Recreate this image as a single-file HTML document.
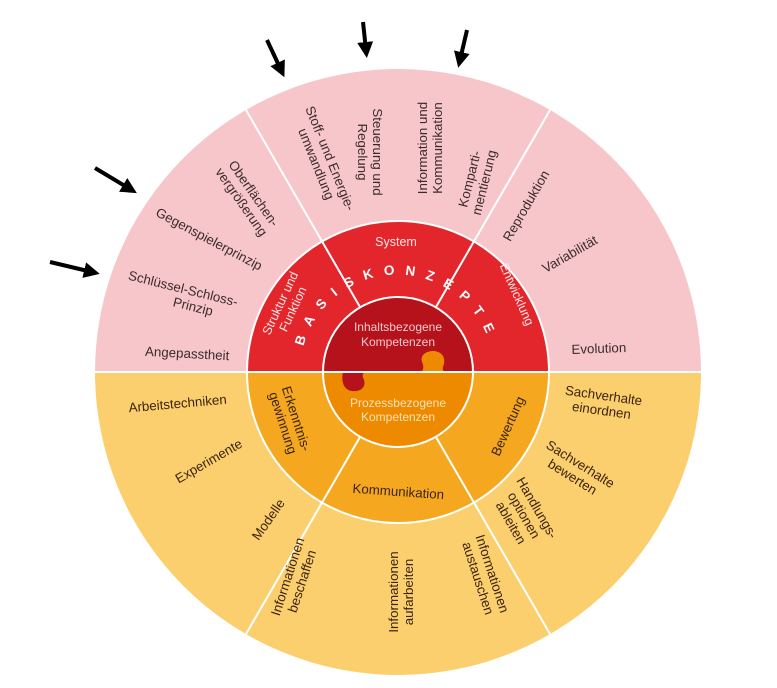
<!DOCTYPE html>
<html><head><meta charset="utf-8"><style>
html,body{margin:0;padding:0;background:#fff;}
svg{display:block;font-family:"Liberation Sans",sans-serif;}
.o{font-size:13.3px;fill:#3b2b2b;}
.w{font-size:12.5px;fill:#fde6e6;}
.d{font-size:13.3px;fill:#3b2410;}
</style></head><body>
<svg width="777" height="688" viewBox="0 0 777 688">
<defs>
<marker id="ah" markerWidth="4" markerHeight="4" refX="2" refY="2" orient="auto" markerUnits="strokeWidth"><path d="M0,0 L4,2 L0,4 z" fill="#000"/></marker>
<path id="arc" d="M 302 352 A 97 97 0 0 1 492 352" fill="none"/>
</defs>
<path d="M95,372 A303,303 0 0 1 701,372 Z" fill="#f6c6ca"/>
<path d="M95,372 A303,303 0 0 0 701,372 Z" fill="#fbcf6e"/>
<path d="M247,372 A151,151 0 0 1 549,372 Z" fill="#e2262b"/>
<path d="M247,372 A151,151 0 0 0 549,372 Z" fill="#f5a81f"/>
<path d="M323,372 A75,75 0 0 1 473,372 Z" fill="#b5121b"/>
<path d="M323,372 A75,75 0 0 0 473,372 Z" fill="#ee8a00"/>
<path d="M343,372 C341,380 343,390 352,391 C362,392 366,386 364,380 C362,376 362,373 366,372 Z" fill="#b5121b"/>
<path d="M420,372 C424,371 424,366 422,362 C420,355 426,351 434,351 C444,352 446,360 443,367 C442,370 444,372 446,372 Z" fill="#ee8a00"/>
<g stroke="#fff" stroke-width="2" fill="none">
<circle cx="398" cy="372" r="151"/>
<circle cx="398" cy="372" r="75"/>
<line x1="95" y1="372" x2="701" y2="372"/>
<line x1="360" y1="307" x2="246" y2="110"/>
<line x1="436" y1="307" x2="550" y2="110"/>
<line x1="360" y1="437" x2="246" y2="634"/>
<line x1="436" y1="437" x2="550" y2="634"/>
</g>
<g stroke="#000" stroke-width="4" marker-end="url(#ah)">
<line x1="267" y1="40" x2="281" y2="70"/>
<line x1="363" y1="22" x2="366" y2="50"/>
<line x1="467" y1="30" x2="460" y2="60"/>
<line x1="95" y1="168" x2="130" y2="189"/>
<line x1="50" y1="262" x2="92" y2="272"/>
</g>
<text class="o" text-anchor="middle" transform="translate(326,160) rotate(68)"><tspan x="0" dy="0">Stoff- und Energie-</tspan><tspan x="0" dy="15">umwandlung</tspan></text>
<text class="o" text-anchor="middle" transform="translate(373,152) rotate(90)"><tspan x="0" dy="0">Steuerung und</tspan><tspan x="0" dy="15">Regelung</tspan></text>
<text class="o" text-anchor="middle" transform="translate(427,148) rotate(-90)"><tspan x="0" dy="0">Information und</tspan><tspan x="0" dy="15">Kommunikation</tspan></text>
<text class="o" text-anchor="middle" transform="translate(474,180) rotate(-76)"><tspan x="0" dy="0">Komparti-</tspan><tspan x="0" dy="15">mentierung</tspan></text>
<text class="o" text-anchor="middle" transform="translate(530,208) rotate(-60)">Reproduktion</text>
<text class="o" text-anchor="middle" transform="translate(572,258) rotate(-30)">Variabilität</text>
<text class="o" text-anchor="middle" transform="translate(599,353) rotate(-2)">Evolution</text>
<text class="o" text-anchor="middle" transform="translate(250,196) rotate(55)"><tspan x="0" dy="0">Oberflächen-</tspan><tspan x="0" dy="15">vergrößerung</tspan></text>
<text class="o" text-anchor="middle" transform="translate(207,243) rotate(28)">Gegenspielerprinzip</text>
<text class="o" text-anchor="middle" transform="translate(182,293) rotate(14)"><tspan x="0" dy="0">Schlüssel-Schloss-</tspan><tspan x="14" dy="15">Prinzip</tspan></text>
<text class="o" text-anchor="middle" transform="translate(187,358) rotate(3)">Angepasstheit</text>
<text class="d" text-anchor="middle" transform="translate(178,408) rotate(-5)">Arbeitstechniken</text>
<text class="d" text-anchor="middle" transform="translate(211,465) rotate(-30)">Experimente</text>
<text class="d" text-anchor="middle" transform="translate(272,522) rotate(-55)">Modelle</text>
<text class="d" text-anchor="middle" transform="translate(292,578) rotate(-72)"><tspan x="0" dy="0">Informationen</tspan><tspan x="0" dy="15">beschaffen</tspan></text>
<text class="d" text-anchor="middle" transform="translate(398,592) rotate(-90)"><tspan x="0" dy="0">Informationen</tspan><tspan x="0" dy="15">aufarbeiten</tspan></text>
<text class="d" text-anchor="middle" transform="translate(488,575) rotate(72)"><tspan x="0" dy="0">Informationen</tspan><tspan x="0" dy="15">austauschen</tspan></text>
<text class="d" text-anchor="middle" transform="translate(533,510) rotate(60)"><tspan x="0" dy="0">Handlungs-</tspan><tspan x="0" dy="15">optionen</tspan><tspan x="0" dy="15">ableiten</tspan></text>
<text class="d" text-anchor="middle" transform="translate(578,468) rotate(32)"><tspan x="0" dy="0">Sachverhalte</tspan><tspan x="0" dy="15">bewerten</tspan></text>
<text class="d" text-anchor="middle" transform="translate(603,400) rotate(8)"><tspan x="0" dy="0">Sachverhalte</tspan><tspan x="0" dy="15">einordnen</tspan></text>
<text class="w" text-anchor="middle" x="396" y="246">System</text>
<text class="w" text-anchor="middle" transform="translate(284,305) rotate(-65)"><tspan x="0" dy="0">Struktur und</tspan><tspan x="0" dy="14">Funktion</tspan></text>
<text class="w" text-anchor="middle" transform="translate(513,296) rotate(66)">Entwicklung</text>
<text class="d" text-anchor="middle" transform="translate(292,420) rotate(72)"><tspan x="0" dy="0">Erkenntnis-</tspan><tspan x="0" dy="14">gewinnung</tspan></text>
<text class="d" text-anchor="middle" transform="translate(398,496) rotate(4)">Kommunikation</text>
<text class="d" text-anchor="middle" transform="translate(512,428) rotate(-66)">Bewertung</text>
<text font-size="13.5" font-weight="bold" fill="#fff" textLength="240" lengthAdjust="spacing"><textPath href="#arc" startOffset="6">BASISKONZEPTE</textPath></text>
<text font-size="12" fill="#f7c9cc" text-anchor="middle"><tspan x="398" y="331">Inhaltsbezogene</tspan><tspan x="398" y="346">Kompetenzen</tspan></text>
<text font-size="12" fill="#fde2b5" text-anchor="middle"><tspan x="398" y="407">Prozessbezogene</tspan><tspan x="398" y="421">Kompetenzen</tspan></text>
</svg>
</body></html>
